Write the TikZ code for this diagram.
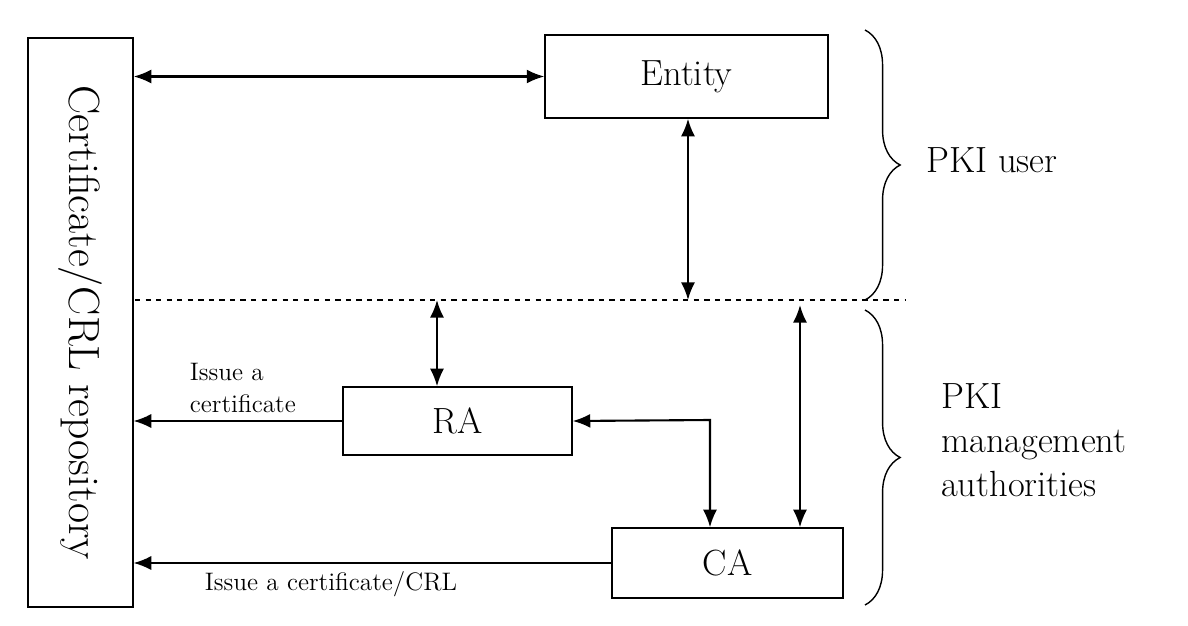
\documentclass[tikz,border=0pt]{standalone}
\usetikzlibrary{arrows.meta, positioning, decorations.pathreplacing}

\begin{document}
\begin{tikzpicture}[x=0.02cm,y=-0.02cm,
        >={Latex[length=10pt,width=8pt]},
        box/.style={draw, thick, minimum height=1.3cm, font=\huge},
        link/.style={<->, very thick},
        push/.style={->, thick},
        note/.style={font=\Large, align=left},
        ]
        \useasboundingbox (0,0) rectangle (1188,626);
        \node[draw, thick, minimum width=2.1cm, minimum height=11.38cm] (repo) at (80.5,322.5) {};
        \node[rotate=-90, font=\Huge] at (repo.center) {Certificate/CRL repository};
        \node[box, minimum width=5.66cm, minimum height=1.66cm] (entity) at (686.5,76.5) {Entity};
        \node[box, minimum width=4.58cm, minimum height=1.36cm] (ra) at (457.5,421) {RA};
        \node[box, minimum width=4.62cm, minimum height=1.4cm] (ca) at (727.5,563) {CA};

        % boundary between users and authorities
        \coordinate (cut_l) at (135,300);
        \coordinate (cut_r) at (905,300);
        \draw[dashed, thick] (cut_l) -- (cut_r);

        \coordinate (e_foot) at (688,300);
        \coordinate (ra_top) at (437,300);
        \coordinate (ca_top) at (800,305);
        \coordinate (bend) at (710,420);
        \draw[link] (repo.north east |- entity.west) -- (entity.west);
        \draw[link] (entity.south -| e_foot) -- (e_foot);
        \draw[link] (ra_top) -- (ra.north -| ra_top);
        \draw[link] (ra.east) -- (bend) -- (bend |- ca.north);
        \draw[link] (ca_top) -- (ca.north -| ca_top);
        \draw[push] (ra.west) -- (ra.west -| repo.east) coordinate (ra_in);
        \draw[push] (ca.west) -- (ca.west -| repo.east) coordinate (ca_in);

        \node[note, above right=0.05cm and 1cm of ra_in] (issue_ra) {Issue a\\certificate};
        \node[note, below right=0.05cm and 1.3cm of ca_in] (issue_ca) {Issue a certificate/CRL};

        \draw[decorate, decoration={brace, amplitude=20pt}, thick] (865,30) -- (865,300) coordinate (b1);
        \draw[decorate, decoration={brace, amplitude=20pt}, thick] (865,310) -- (865,605) coordinate (b2);
        \node[font=\huge, anchor=west] (user) at (920,160) {PKI user};
        \node[font=\huge, anchor=west, align=left] (mgmt) at (935,440) {PKI\\management\\authorities};
      \end{tikzpicture}
\end{document}
